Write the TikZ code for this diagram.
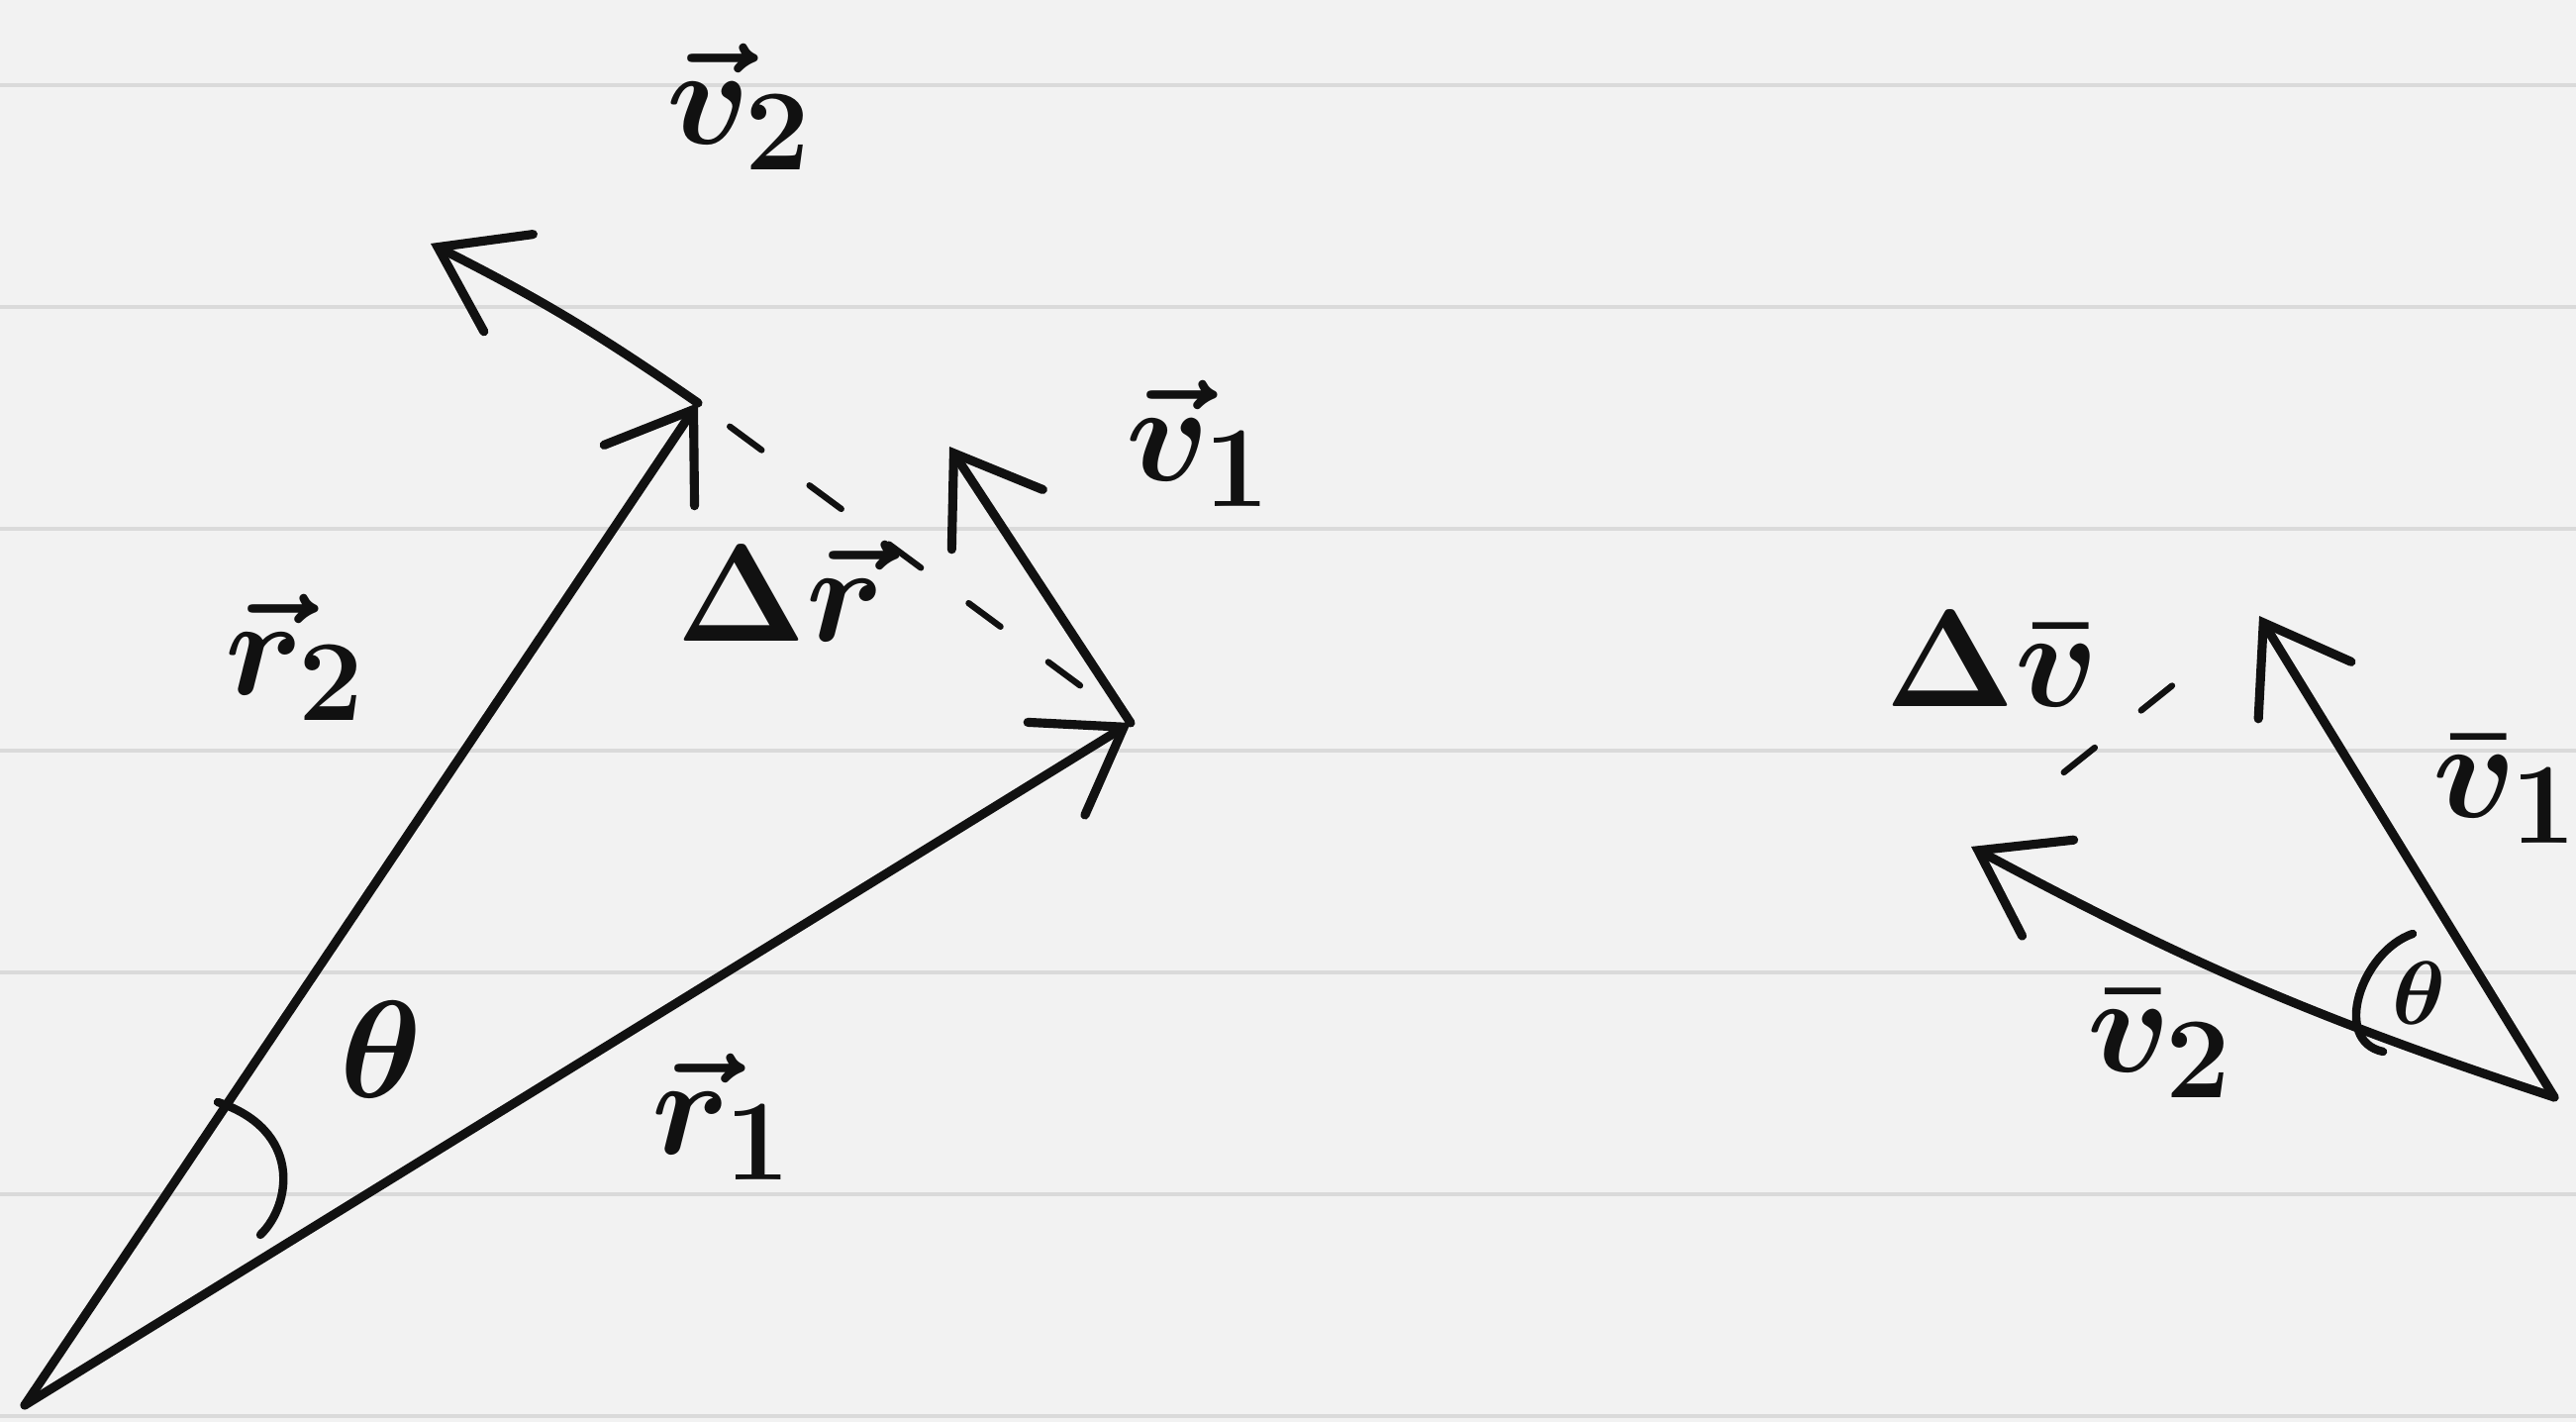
\documentclass[tikz,border=0pt]{standalone}
\usepackage{amsmath}
\usetikzlibrary{arrows.meta}
\definecolor{paper}{HTML}{F2F2F2}
\definecolor{ruling}{HTML}{DADADA}
\definecolor{ink}{HTML}{111111}

\begin{document}
\begin{tikzpicture}[
  vec/.style={draw=ink,line width=2.6pt,line cap=round,
    -{Straight Barb[length=8mm,width=11mm,line cap=round]}},
  dashline/.style={draw=ink,line width=1.8pt,dash pattern=on 4mm off 6mm,line cap=round},
  angmark/.style={draw=ink,line width=2.4pt,line cap=round},
  tag/.style={text=ink,font=\Huge\boldmath,scale=1.6,inner sep=0pt},
  rule/.style={draw=ruling,line width=1.2pt}
]
\fill[paper] (0,0) rectangle (26.02,14.36);
\useasboundingbox (0,0) rectangle (26.02,14.36);
\foreach \k in {0,...,6}
  \draw[rule] (0,{0.06+2.24*\k}) -- (26.02,{0.06+2.24*\k});

% position vectors
\coordinate (O) at (0.25,0.17);
\coordinate (R1) at (11.42,7.06);
\coordinate (R2) at (7.05,10.29);
\coordinate (V1) at (9.59,9.85);
\coordinate (V2) at (4.35,11.90);
\draw[vec] (O) -- (R1);
\draw[vec] (O) -- (R2);
\draw[vec] (R1) -- (V1);
\draw[vec] (R2) to[bend right=4] (V2);
\draw[dashline,shorten <=4mm,shorten >=4mm] (R2) -- (R1);
\coordinate (A1) at (2.20,3.23);
\coordinate (A2) at (2.63,1.89);
\draw[angmark] (A1) .. controls (3.05,2.95) and (2.95,2.20) .. (A2);

\node[tag] (r1) at (7.30,3.08) {$\vec{r}_1$};
\node[tag] (r2) at (2.99,7.72) {$\vec{r}_2$};
\node[tag] (dr) at (7.88,8.39) {$\Delta\vec{r}$};
\node[tag] (th) at (3.85,3.76) {$\theta$};
\node[tag] (v1) at (12.11,9.88) {$\vec{v}_1$};
\node[tag] (v2) at (7.47,13.28) {$\vec{v}_2$};

% velocity triangle
\coordinate (P) at (25.80,3.28);
\coordinate (W1) at (22.82,8.14);
\coordinate (W2) at (19.91,5.81);
\draw[vec] (P) -- (W1);
\draw[vec] (P) to[bend left=5] (W2);
\draw[dashline,shorten <=12mm,shorten >=6mm] (W2) -- (W1);
\coordinate (B1) at (24.37,4.93);
\coordinate (B2) at (24.07,3.74);
\draw[angmark] (B1) .. controls (23.85,4.75) and (23.55,3.85) .. (B2);

\node[tag] (dv) at (20.12,7.70) {$\Delta\bar{v}$};
\node[tag] (w1) at (25.31,6.39) {$\bar{v}_1$};
\node[tag] (w2) at (21.82,3.82) {$\bar{v}_2$};
\node[tag,scale=0.65] (th2) at (24.43,4.33) {$\theta$};
\end{tikzpicture}
\end{document}
